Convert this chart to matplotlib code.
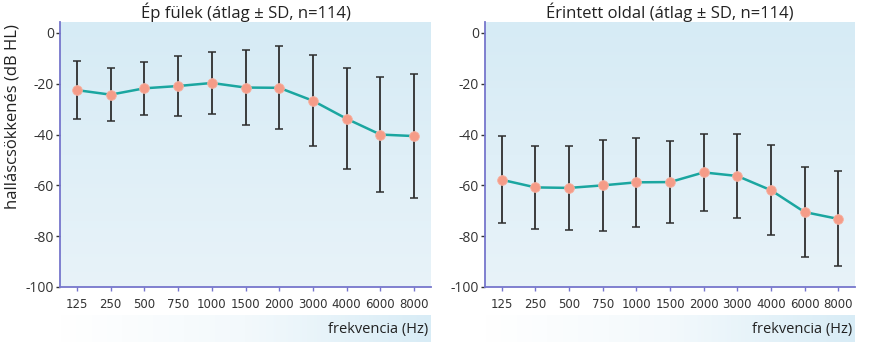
import numpy as np
import matplotlib
matplotlib.use("Agg")
import matplotlib.pyplot as plt

# Frequencies (Hz) shown as categorical positions
freqs = ["125", "250", "500", "750", "1000", "1500", "2000", "3000", "4000", "6000", "8000"]

# Healthy ears: mean and SD of hearing loss (dB HL)
healthy_mean = [-22.5, -24.3, -21.8, -20.9, -19.7, -21.5, -21.6, -26.7, -33.8, -40.0, -40.6]
healthy_sd = [11.5, 10.5, 10.5, 11.7, 12.1, 14.6, 16.4, 18.0, 19.8, 22.5, 24.5]

# Affected side: mean and SD of hearing loss (dB HL)
affected_mean = [-57.8, -60.8, -61.0, -60.0, -58.8, -58.7, -54.9, -56.3, -61.9, -70.5, -73.2]
affected_sd = [17.2, 16.4, 16.6, 17.8, 17.6, 16.3, 15.3, 16.4, 17.8, 17.7, 18.7]

titles = ["Ép fülek (átlag ± SD, n=114)", "Érintett oldal (átlag ± SD, n=114)"]
yticks = [0, -20, -40, -60, -80, -100]

W, H = 872, 342
fig = plt.figure(figsize=(W / 100, H / 100), dpi=100)
fig.patch.set_facecolor("white")

AXIS_COL = "#7676cc"
TEXT_COL = "#333333"
narrow = ["Liberation Sans Narrow", "DejaVu Sans"]
regular = ["Open Sans", "DejaVu Sans"]


def px_rect(x0, y0, x1, y1):
    return [x0 / W, (H - y1) / H, (x1 - x0) / W, (y1 - y0) / H]


# soft horizontal gradient strips behind the x-axis labels
def strip(x0, y0, x1, y1):
    a = fig.add_axes(px_rect(x0, y0, x1, y1), zorder=0)
    grad = np.linspace(0, 1, 256)[None, :]
    cmap = matplotlib.colors.LinearSegmentedColormap.from_list(
        "s", ["#ffffff", "#f3f9fc", "#d8ecf6"])
    a.imshow(grad, aspect="auto", cmap=cmap, extent=[0, 1, 0, 1])
    a.axis("off")


strip(60, 315, 431, 342)
strip(485, 315, 855, 342)

panels = [
    (px_rect(60, 22, 431, 287), healthy_mean, healthy_sd),
    (px_rect(485, 22, 855, 287), affected_mean, affected_sd),
]

x = np.arange(len(freqs))
bg_cmap = matplotlib.colors.LinearSegmentedColormap.from_list(
    "bg", ["#e8f3f9", "#d6ebf5"])

for i, (rect, mean, sd) in enumerate(panels):
    ax = fig.add_axes(rect, zorder=1)
    ax.set_xlim(-0.5, 10.5)
    ax.set_ylim(-100, 4.3)
    # vertical background gradient
    ax.imshow(np.linspace(0, 1, 256)[:, None], aspect="auto", cmap=bg_cmap,
              extent=[-0.5, 10.5, -100, 4.3], origin="lower", zorder=0)

    ax.errorbar(x, mean, yerr=sd, fmt="none", ecolor="#2e2e2e",
                elinewidth=1.3, capsize=3, capthick=1.1, zorder=2)
    ax.plot(x, mean, color="#1ba6a0", lw=1.8, zorder=3)
    ax.plot(x, mean, "o", ms=7, color="#f59c88", mec="#f7b2a2", mew=0.6, zorder=4)

    for s in ["top", "right"]:
        ax.spines[s].set_visible(False)
    for s in ["left", "bottom"]:
        ax.spines[s].set_color(AXIS_COL)
        ax.spines[s].set_linewidth(1.3)

    ax.set_xticks(x)
    ax.set_xticklabels(freqs, family=narrow, fontsize=8.5, color=TEXT_COL)
    ax.set_yticks(yticks)
    ax.set_yticklabels([f"{v}" if v == 0 else f"-{abs(v)}" for v in yticks],
                       family=regular, fontsize=10, color=TEXT_COL)
    ax.tick_params(axis="x", length=3, width=1, color=AXIS_COL, pad=5)
    ax.tick_params(axis="y", length=3, width=1, color=TEXT_COL, pad=1.5)

    ax.set_title(titles[i], family=regular, fontsize=12, color="#222222", pad=3)

    ax.text(0.993, -0.16, "frekvencia (Hz)", transform=ax.transAxes,
            ha="right", va="center", family=regular, fontsize=10.5, color="#222222")

fig.text(13 / W, 1 - 117 / H, "halláscsökkenés (dB HL)", rotation=90,
         ha="center", va="center", family=regular, fontsize=12, color="#222222")

fig.savefig("out.png", dpi=100)
